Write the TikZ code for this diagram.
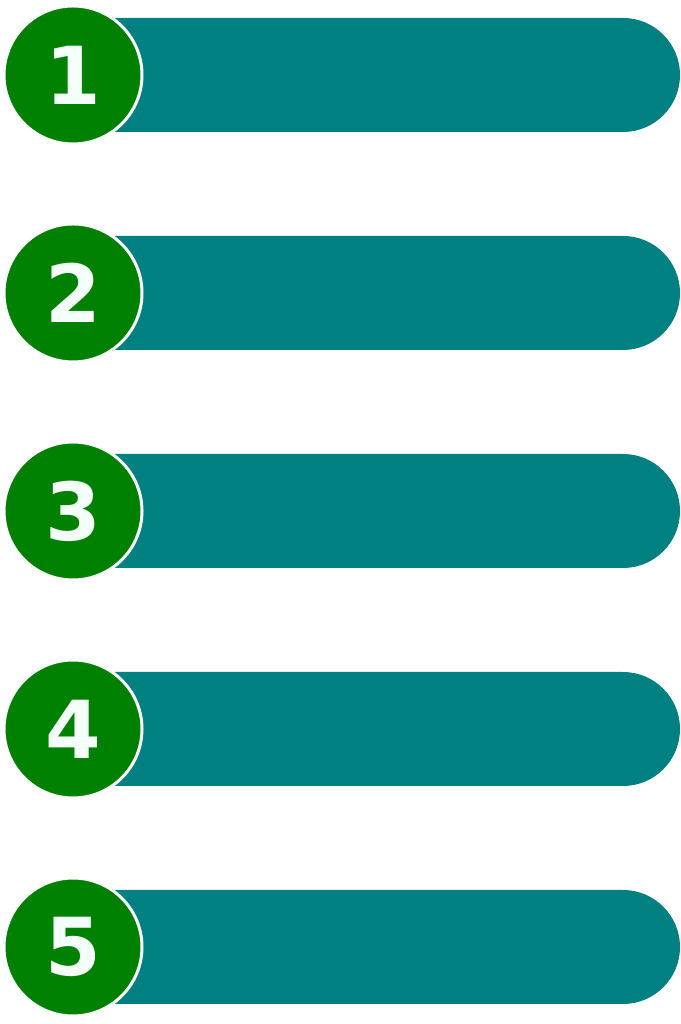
\documentclass[tikz,border=0pt]{standalone}
\usepackage{fontspec}
\setmainfont{DejaVu Sans}
\usepackage{xcolor}
\definecolor{barTeal}{HTML}{008080}
\definecolor{numGreen}{HTML}{008000}
\definecolor{numText}{HTML}{F5FFFA}
\usepackage{tikz}

\tikzset{
  numcircle/.style={circle, fill=numGreen, draw=white, line width=3pt,
    minimum size=138pt, inner sep=0pt, text=numText,
    font=\bfseries\fontsize{80}{80}\selectfont},
}

\begin{document}
\begin{tikzpicture}[x=1pt, y=1pt]
  \useasboundingbox (0,0) rectangle (680,1024);
  % ---- five rows: teal bar, then green number disc on top ----
  \foreach \i in {1,...,5} {
    \pgfmathsetmacro{\yc}{1024-75-218*(\i-1)}
    \fill[barTeal] (115,\yc+57) -- (623,\yc+57)
      arc[start angle=90, end angle=-90, radius=57] -- (115,\yc-57) -- cycle;
    \node[numcircle] (num\i) at (73,\yc) {\i};
  }
\end{tikzpicture}
\end{document}
